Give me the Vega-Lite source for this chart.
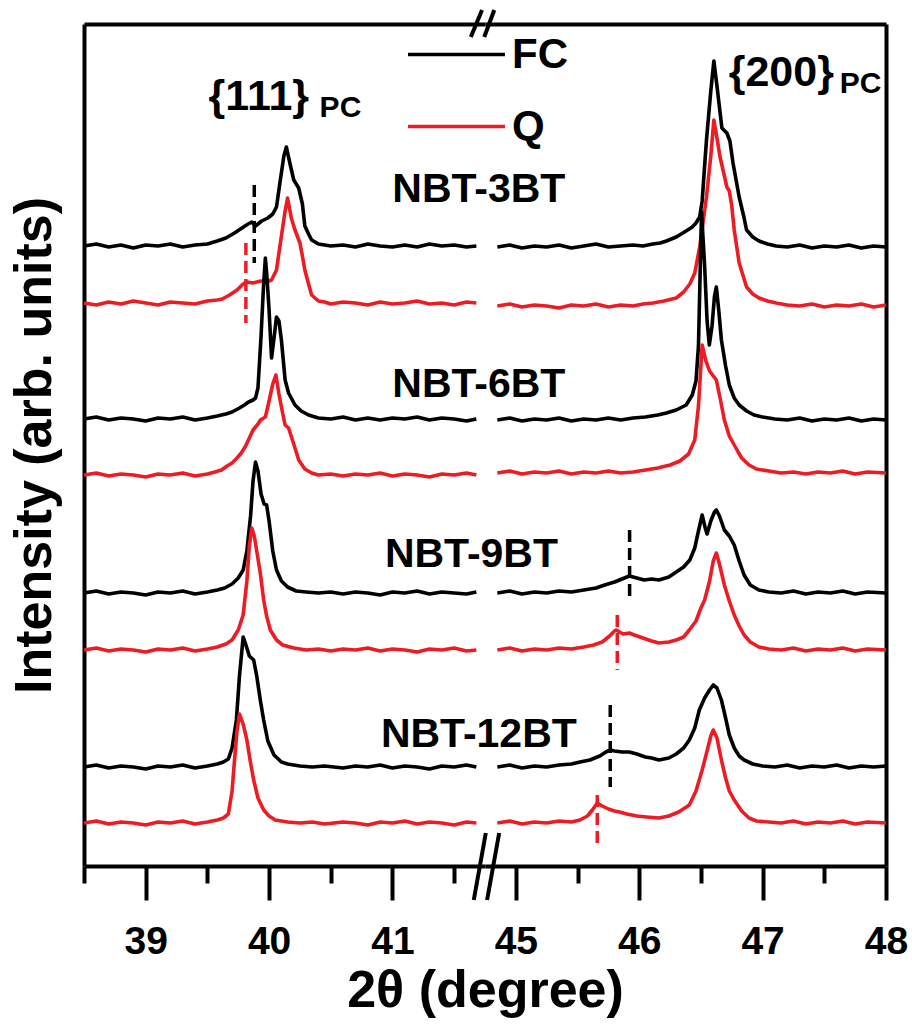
{
"$schema":"https://vega.github.io/schema/vega-lite/v6.json",
"padding":{"left":8,"top":4,"right":20,"bottom":3},
"bounds":"flush",
"spacing":0,
"config":{"view":{"stroke":null},"font":"Liberation Sans",
"axis":{"domainColor":"black","domainWidth":4,"tickColor":"black","tickWidth":4,"labelFont":"Liberation Sans","labelFontWeight":"bold","labelFontSize":39,"labelColor":"black","titleFont":"Liberation Sans","titleFontWeight":"bold","titleFontSize":52,"titleColor":"black","grid":false,"labelFlush":false,"labelOverlap":false}},
"resolve":{"scale":{"x":"independent","y":"independent","color":"shared"}},
"datasets":{
"xrd":[
{"s":"3BT","c":"FC","x":38.5,"y":620},{"s":"3BT","c":"FC","x":38.6,"y":622},{"s":"3BT","c":"FC","x":38.7,"y":619},{"s":"3BT","c":"FC","x":38.8,"y":621},{"s":"3BT","c":"FC","x":38.9,"y":618},{"s":"3BT","c":"FC","x":39.0,"y":621},{"s":"3BT","c":"FC","x":39.1,"y":620},{"s":"3BT","c":"FC","x":39.2,"y":622},{"s":"3BT","c":"FC","x":39.3,"y":619},{"s":"3BT","c":"FC","x":39.4,"y":621},{"s":"3BT","c":"FC","x":39.5,"y":622},{"s":"3BT","c":"FC","x":39.58,"y":625},{"s":"3BT","c":"FC","x":39.65,"y":628},{"s":"3BT","c":"FC","x":39.72,"y":633},{"s":"3BT","c":"FC","x":39.78,"y":638},{"s":"3BT","c":"FC","x":39.83,"y":642},{"s":"3BT","c":"FC","x":39.86,"y":644},{"s":"3BT","c":"FC","x":39.89,"y":640},{"s":"3BT","c":"FC","x":39.94,"y":645},{"s":"3BT","c":"FC","x":39.99,"y":648},{"s":"3BT","c":"FC","x":40.03,"y":652},{"s":"3BT","c":"FC","x":40.06,"y":659},{"s":"3BT","c":"FC","x":40.09,"y":685},{"s":"3BT","c":"FC","x":40.12,"y":710},{"s":"3BT","c":"FC","x":40.14,"y":719},{"s":"3BT","c":"FC","x":40.17,"y":702},{"s":"3BT","c":"FC","x":40.2,"y":686},{"s":"3BT","c":"FC","x":40.24,"y":678},{"s":"3BT","c":"FC","x":40.27,"y":662},{"s":"3BT","c":"FC","x":40.29,"y":640},{"s":"3BT","c":"FC","x":40.32,"y":632},{"s":"3BT","c":"FC","x":40.345,"y":626},{"s":"3BT","c":"FC","x":40.4,"y":622},{"s":"3BT","c":"FC","x":40.5,"y":620},{"s":"3BT","c":"FC","x":40.6,"y":621},{"s":"3BT","c":"FC","x":40.7,"y":619},{"s":"3BT","c":"FC","x":40.8,"y":622},{"s":"3BT","c":"FC","x":40.9,"y":620},{"s":"3BT","c":"FC","x":41.0,"y":619},{"s":"3BT","c":"FC","x":41.1,"y":621},{"s":"3BT","c":"FC","x":41.2,"y":619},{"s":"3BT","c":"FC","x":41.3,"y":622},{"s":"3BT","c":"FC","x":41.4,"y":620},{"s":"3BT","c":"FC","x":41.5,"y":621},{"s":"3BT","c":"FC","x":41.6,"y":619},{"s":"3BT","c":"FC","x":41.68,"y":620},
{"s":"3BT","c":"Q","x":38.5,"y":563},{"s":"3BT","c":"Q","x":38.6,"y":561},{"s":"3BT","c":"Q","x":38.7,"y":564},{"s":"3BT","c":"Q","x":38.8,"y":562},{"s":"3BT","c":"Q","x":38.9,"y":565},{"s":"3BT","c":"Q","x":39.0,"y":563},{"s":"3BT","c":"Q","x":39.1,"y":561},{"s":"3BT","c":"Q","x":39.2,"y":564},{"s":"3BT","c":"Q","x":39.3,"y":563},{"s":"3BT","c":"Q","x":39.4,"y":562},{"s":"3BT","c":"Q","x":39.5,"y":565},{"s":"3BT","c":"Q","x":39.58,"y":566},{"s":"3BT","c":"Q","x":39.62,"y":567},{"s":"3BT","c":"Q","x":39.68,"y":571},{"s":"3BT","c":"Q","x":39.74,"y":576},{"s":"3BT","c":"Q","x":39.79,"y":582},{"s":"3BT","c":"Q","x":39.82,"y":584},{"s":"3BT","c":"Q","x":39.87,"y":583},{"s":"3BT","c":"Q","x":39.93,"y":585},{"s":"3BT","c":"Q","x":39.98,"y":584},{"s":"3BT","c":"Q","x":40.02,"y":586},{"s":"3BT","c":"Q","x":40.06,"y":596},{"s":"3BT","c":"Q","x":40.1,"y":630},{"s":"3BT","c":"Q","x":40.13,"y":655},{"s":"3BT","c":"Q","x":40.15,"y":668},{"s":"3BT","c":"Q","x":40.18,"y":648},{"s":"3BT","c":"Q","x":40.21,"y":636},{"s":"3BT","c":"Q","x":40.25,"y":623},{"s":"3BT","c":"Q","x":40.27,"y":610},{"s":"3BT","c":"Q","x":40.29,"y":596},{"s":"3BT","c":"Q","x":40.32,"y":582},{"s":"3BT","c":"Q","x":40.345,"y":571},{"s":"3BT","c":"Q","x":40.4,"y":565},{"s":"3BT","c":"Q","x":40.45,"y":564},{"s":"3BT","c":"Q","x":40.5,"y":562},{"s":"3BT","c":"Q","x":40.6,"y":564},{"s":"3BT","c":"Q","x":40.7,"y":563},{"s":"3BT","c":"Q","x":40.8,"y":561},{"s":"3BT","c":"Q","x":40.9,"y":564},{"s":"3BT","c":"Q","x":41.0,"y":562},{"s":"3BT","c":"Q","x":41.1,"y":563},{"s":"3BT","c":"Q","x":41.2,"y":565},{"s":"3BT","c":"Q","x":41.3,"y":562},{"s":"3BT","c":"Q","x":41.4,"y":563},{"s":"3BT","c":"Q","x":41.5,"y":561},{"s":"3BT","c":"Q","x":41.6,"y":564},{"s":"3BT","c":"Q","x":41.68,"y":563},
{"s":"6BT","c":"FC","x":38.5,"y":447},{"s":"6BT","c":"FC","x":38.6,"y":449},{"s":"6BT","c":"FC","x":38.7,"y":446},{"s":"6BT","c":"FC","x":38.8,"y":448},{"s":"6BT","c":"FC","x":38.9,"y":447},{"s":"6BT","c":"FC","x":39.0,"y":445},{"s":"6BT","c":"FC","x":39.1,"y":448},{"s":"6BT","c":"FC","x":39.2,"y":447},{"s":"6BT","c":"FC","x":39.3,"y":449},{"s":"6BT","c":"FC","x":39.4,"y":446},{"s":"6BT","c":"FC","x":39.5,"y":448},{"s":"6BT","c":"FC","x":39.58,"y":450},{"s":"6BT","c":"FC","x":39.65,"y":452},{"s":"6BT","c":"FC","x":39.7,"y":454},{"s":"6BT","c":"FC","x":39.76,"y":458},{"s":"6BT","c":"FC","x":39.8,"y":461},{"s":"6BT","c":"FC","x":39.834,"y":464},{"s":"6BT","c":"FC","x":39.87,"y":466},{"s":"6BT","c":"FC","x":39.89,"y":468},{"s":"6BT","c":"FC","x":39.91,"y":478},{"s":"6BT","c":"FC","x":39.935,"y":530},{"s":"6BT","c":"FC","x":39.955,"y":580},{"s":"6BT","c":"FC","x":39.97,"y":608},{"s":"6BT","c":"FC","x":39.985,"y":585},{"s":"6BT","c":"FC","x":40.0,"y":556},{"s":"6BT","c":"FC","x":40.02,"y":508},{"s":"6BT","c":"FC","x":40.04,"y":528},{"s":"6BT","c":"FC","x":40.06,"y":549},{"s":"6BT","c":"FC","x":40.08,"y":545},{"s":"6BT","c":"FC","x":40.1,"y":526},{"s":"6BT","c":"FC","x":40.13,"y":486},{"s":"6BT","c":"FC","x":40.158,"y":473},{"s":"6BT","c":"FC","x":40.21,"y":461},{"s":"6BT","c":"FC","x":40.26,"y":455},{"s":"6BT","c":"FC","x":40.32,"y":451},{"s":"6BT","c":"FC","x":40.4,"y":448},{"s":"6BT","c":"FC","x":40.5,"y":447},{"s":"6BT","c":"FC","x":40.6,"y":449},{"s":"6BT","c":"FC","x":40.7,"y":446},{"s":"6BT","c":"FC","x":40.8,"y":448},{"s":"6BT","c":"FC","x":40.9,"y":446},{"s":"6BT","c":"FC","x":41.0,"y":448},{"s":"6BT","c":"FC","x":41.1,"y":447},{"s":"6BT","c":"FC","x":41.2,"y":449},{"s":"6BT","c":"FC","x":41.3,"y":446},{"s":"6BT","c":"FC","x":41.4,"y":448},{"s":"6BT","c":"FC","x":41.5,"y":447},{"s":"6BT","c":"FC","x":41.6,"y":445},{"s":"6BT","c":"FC","x":41.68,"y":447},
{"s":"6BT","c":"Q","x":38.5,"y":391},{"s":"6BT","c":"Q","x":38.6,"y":393},{"s":"6BT","c":"Q","x":38.7,"y":390},{"s":"6BT","c":"Q","x":38.8,"y":392},{"s":"6BT","c":"Q","x":38.9,"y":391},{"s":"6BT","c":"Q","x":39.0,"y":389},{"s":"6BT","c":"Q","x":39.1,"y":392},{"s":"6BT","c":"Q","x":39.2,"y":391},{"s":"6BT","c":"Q","x":39.3,"y":393},{"s":"6BT","c":"Q","x":39.4,"y":390},{"s":"6BT","c":"Q","x":39.5,"y":392},{"s":"6BT","c":"Q","x":39.56,"y":394},{"s":"6BT","c":"Q","x":39.615,"y":396},{"s":"6BT","c":"Q","x":39.66,"y":400},{"s":"6BT","c":"Q","x":39.7,"y":403},{"s":"6BT","c":"Q","x":39.74,"y":408},{"s":"6BT","c":"Q","x":39.775,"y":413},{"s":"6BT","c":"Q","x":39.81,"y":420},{"s":"6BT","c":"Q","x":39.84,"y":428},{"s":"6BT","c":"Q","x":39.87,"y":436},{"s":"6BT","c":"Q","x":39.91,"y":442},{"s":"6BT","c":"Q","x":39.93,"y":446},{"s":"6BT","c":"Q","x":39.97,"y":449},{"s":"6BT","c":"Q","x":40.0,"y":465},{"s":"6BT","c":"Q","x":40.03,"y":482},{"s":"6BT","c":"Q","x":40.055,"y":491},{"s":"6BT","c":"Q","x":40.08,"y":472},{"s":"6BT","c":"Q","x":40.1,"y":459},{"s":"6BT","c":"Q","x":40.13,"y":441},{"s":"6BT","c":"Q","x":40.158,"y":438},{"s":"6BT","c":"Q","x":40.2,"y":422},{"s":"6BT","c":"Q","x":40.24,"y":406},{"s":"6BT","c":"Q","x":40.29,"y":397},{"s":"6BT","c":"Q","x":40.345,"y":393},{"s":"6BT","c":"Q","x":40.4,"y":391},{"s":"6BT","c":"Q","x":40.5,"y":392},{"s":"6BT","c":"Q","x":40.6,"y":390},{"s":"6BT","c":"Q","x":40.7,"y":392},{"s":"6BT","c":"Q","x":40.8,"y":391},{"s":"6BT","c":"Q","x":40.9,"y":393},{"s":"6BT","c":"Q","x":41.0,"y":390},{"s":"6BT","c":"Q","x":41.1,"y":392},{"s":"6BT","c":"Q","x":41.2,"y":391},{"s":"6BT","c":"Q","x":41.3,"y":389},{"s":"6BT","c":"Q","x":41.4,"y":392},{"s":"6BT","c":"Q","x":41.5,"y":391},{"s":"6BT","c":"Q","x":41.6,"y":393},{"s":"6BT","c":"Q","x":41.68,"y":391},
{"s":"9BT","c":"FC","x":38.5,"y":273},{"s":"9BT","c":"FC","x":38.6,"y":275},{"s":"9BT","c":"FC","x":38.7,"y":272},{"s":"9BT","c":"FC","x":38.8,"y":274},{"s":"9BT","c":"FC","x":38.9,"y":273},{"s":"9BT","c":"FC","x":39.0,"y":271},{"s":"9BT","c":"FC","x":39.1,"y":274},{"s":"9BT","c":"FC","x":39.2,"y":273},{"s":"9BT","c":"FC","x":39.3,"y":275},{"s":"9BT","c":"FC","x":39.4,"y":272},{"s":"9BT","c":"FC","x":39.5,"y":274},{"s":"9BT","c":"FC","x":39.58,"y":276},{"s":"9BT","c":"FC","x":39.64,"y":278},{"s":"9BT","c":"FC","x":39.7,"y":282},{"s":"9BT","c":"FC","x":39.75,"y":288},{"s":"9BT","c":"FC","x":39.79,"y":296},{"s":"9BT","c":"FC","x":39.82,"y":315},{"s":"9BT","c":"FC","x":39.85,"y":350},{"s":"9BT","c":"FC","x":39.87,"y":385},{"s":"9BT","c":"FC","x":39.89,"y":404},{"s":"9BT","c":"FC","x":39.91,"y":395},{"s":"9BT","c":"FC","x":39.935,"y":372},{"s":"9BT","c":"FC","x":39.96,"y":362},{"s":"9BT","c":"FC","x":39.98,"y":361},{"s":"9BT","c":"FC","x":40.0,"y":345},{"s":"9BT","c":"FC","x":40.03,"y":315},{"s":"9BT","c":"FC","x":40.06,"y":296},{"s":"9BT","c":"FC","x":40.1,"y":285},{"s":"9BT","c":"FC","x":40.15,"y":279},{"s":"9BT","c":"FC","x":40.22,"y":275},{"s":"9BT","c":"FC","x":40.3,"y":274},{"s":"9BT","c":"FC","x":40.4,"y":273},{"s":"9BT","c":"FC","x":40.5,"y":274},{"s":"9BT","c":"FC","x":40.6,"y":272},{"s":"9BT","c":"FC","x":40.7,"y":274},{"s":"9BT","c":"FC","x":40.8,"y":273},{"s":"9BT","c":"FC","x":40.9,"y":271},{"s":"9BT","c":"FC","x":41.0,"y":274},{"s":"9BT","c":"FC","x":41.1,"y":273},{"s":"9BT","c":"FC","x":41.2,"y":275},{"s":"9BT","c":"FC","x":41.3,"y":272},{"s":"9BT","c":"FC","x":41.4,"y":274},{"s":"9BT","c":"FC","x":41.5,"y":273},{"s":"9BT","c":"FC","x":41.6,"y":272},{"s":"9BT","c":"FC","x":41.68,"y":274},
{"s":"9BT","c":"Q","x":38.5,"y":216},{"s":"9BT","c":"Q","x":38.6,"y":218},{"s":"9BT","c":"Q","x":38.7,"y":215},{"s":"9BT","c":"Q","x":38.8,"y":217},{"s":"9BT","c":"Q","x":38.9,"y":216},{"s":"9BT","c":"Q","x":39.0,"y":214},{"s":"9BT","c":"Q","x":39.1,"y":217},{"s":"9BT","c":"Q","x":39.2,"y":216},{"s":"9BT","c":"Q","x":39.3,"y":218},{"s":"9BT","c":"Q","x":39.4,"y":215},{"s":"9BT","c":"Q","x":39.5,"y":217},{"s":"9BT","c":"Q","x":39.58,"y":219},{"s":"9BT","c":"Q","x":39.65,"y":222},{"s":"9BT","c":"Q","x":39.7,"y":226},{"s":"9BT","c":"Q","x":39.75,"y":236},{"s":"9BT","c":"Q","x":39.79,"y":251},{"s":"9BT","c":"Q","x":39.82,"y":285},{"s":"9BT","c":"Q","x":39.84,"y":320},{"s":"9BT","c":"Q","x":39.86,"y":338},{"s":"9BT","c":"Q","x":39.88,"y":330},{"s":"9BT","c":"Q","x":39.9,"y":315},{"s":"9BT","c":"Q","x":39.93,"y":292},{"s":"9BT","c":"Q","x":39.956,"y":266},{"s":"9BT","c":"Q","x":39.98,"y":250},{"s":"9BT","c":"Q","x":40.01,"y":236},{"s":"9BT","c":"Q","x":40.06,"y":226},{"s":"9BT","c":"Q","x":40.11,"y":221},{"s":"9BT","c":"Q","x":40.2,"y":218},{"s":"9BT","c":"Q","x":40.3,"y":216},{"s":"9BT","c":"Q","x":40.4,"y":217},{"s":"9BT","c":"Q","x":40.5,"y":215},{"s":"9BT","c":"Q","x":40.6,"y":217},{"s":"9BT","c":"Q","x":40.7,"y":216},{"s":"9BT","c":"Q","x":40.8,"y":218},{"s":"9BT","c":"Q","x":40.9,"y":215},{"s":"9BT","c":"Q","x":41.0,"y":217},{"s":"9BT","c":"Q","x":41.1,"y":216},{"s":"9BT","c":"Q","x":41.2,"y":214},{"s":"9BT","c":"Q","x":41.3,"y":217},{"s":"9BT","c":"Q","x":41.4,"y":216},{"s":"9BT","c":"Q","x":41.5,"y":218},{"s":"9BT","c":"Q","x":41.6,"y":215},{"s":"9BT","c":"Q","x":41.68,"y":216},
{"s":"12BT","c":"FC","x":38.5,"y":99},{"s":"12BT","c":"FC","x":38.6,"y":101},{"s":"12BT","c":"FC","x":38.7,"y":98},{"s":"12BT","c":"FC","x":38.8,"y":100},{"s":"12BT","c":"FC","x":38.9,"y":99},{"s":"12BT","c":"FC","x":39.0,"y":97},{"s":"12BT","c":"FC","x":39.1,"y":100},{"s":"12BT","c":"FC","x":39.2,"y":99},{"s":"12BT","c":"FC","x":39.3,"y":101},{"s":"12BT","c":"FC","x":39.4,"y":98},{"s":"12BT","c":"FC","x":39.5,"y":100},{"s":"12BT","c":"FC","x":39.58,"y":102},{"s":"12BT","c":"FC","x":39.63,"y":104},{"s":"12BT","c":"FC","x":39.67,"y":107},{"s":"12BT","c":"FC","x":39.7,"y":118},{"s":"12BT","c":"FC","x":39.735,"y":146},{"s":"12BT","c":"FC","x":39.76,"y":190},{"s":"12BT","c":"FC","x":39.79,"y":229},{"s":"12BT","c":"FC","x":39.81,"y":222},{"s":"12BT","c":"FC","x":39.84,"y":210},{"s":"12BT","c":"FC","x":39.875,"y":206},{"s":"12BT","c":"FC","x":39.9,"y":190},{"s":"12BT","c":"FC","x":39.93,"y":165},{"s":"12BT","c":"FC","x":39.956,"y":146},{"s":"12BT","c":"FC","x":39.99,"y":125},{"s":"12BT","c":"FC","x":40.04,"y":111},{"s":"12BT","c":"FC","x":40.1,"y":104},{"s":"12BT","c":"FC","x":40.15,"y":102},{"s":"12BT","c":"FC","x":40.25,"y":100},{"s":"12BT","c":"FC","x":40.35,"y":99},{"s":"12BT","c":"FC","x":40.45,"y":100},{"s":"12BT","c":"FC","x":40.6,"y":98},{"s":"12BT","c":"FC","x":40.7,"y":100},{"s":"12BT","c":"FC","x":40.8,"y":99},{"s":"12BT","c":"FC","x":40.9,"y":101},{"s":"12BT","c":"FC","x":41.0,"y":98},{"s":"12BT","c":"FC","x":41.1,"y":100},{"s":"12BT","c":"FC","x":41.2,"y":99},{"s":"12BT","c":"FC","x":41.3,"y":97},{"s":"12BT","c":"FC","x":41.4,"y":100},{"s":"12BT","c":"FC","x":41.5,"y":99},{"s":"12BT","c":"FC","x":41.6,"y":101},{"s":"12BT","c":"FC","x":41.68,"y":99},
{"s":"12BT","c":"Q","x":38.5,"y":43},{"s":"12BT","c":"Q","x":38.6,"y":45},{"s":"12BT","c":"Q","x":38.7,"y":42},{"s":"12BT","c":"Q","x":38.8,"y":44},{"s":"12BT","c":"Q","x":38.9,"y":43},{"s":"12BT","c":"Q","x":39.0,"y":41},{"s":"12BT","c":"Q","x":39.1,"y":44},{"s":"12BT","c":"Q","x":39.2,"y":43},{"s":"12BT","c":"Q","x":39.3,"y":45},{"s":"12BT","c":"Q","x":39.4,"y":42},{"s":"12BT","c":"Q","x":39.5,"y":44},{"s":"12BT","c":"Q","x":39.58,"y":46},{"s":"12BT","c":"Q","x":39.63,"y":48},{"s":"12BT","c":"Q","x":39.67,"y":52},{"s":"12BT","c":"Q","x":39.7,"y":75},{"s":"12BT","c":"Q","x":39.72,"y":106},{"s":"12BT","c":"Q","x":39.74,"y":135},{"s":"12BT","c":"Q","x":39.76,"y":152},{"s":"12BT","c":"Q","x":39.79,"y":142},{"s":"12BT","c":"Q","x":39.82,"y":126},{"s":"12BT","c":"Q","x":39.85,"y":103},{"s":"12BT","c":"Q","x":39.875,"y":86},{"s":"12BT","c":"Q","x":39.91,"y":68},{"s":"12BT","c":"Q","x":39.956,"y":56},{"s":"12BT","c":"Q","x":40.0,"y":50},{"s":"12BT","c":"Q","x":40.05,"y":46},{"s":"12BT","c":"Q","x":40.15,"y":44},{"s":"12BT","c":"Q","x":40.25,"y":43},{"s":"12BT","c":"Q","x":40.35,"y":44},{"s":"12BT","c":"Q","x":40.45,"y":42},{"s":"12BT","c":"Q","x":40.6,"y":44},{"s":"12BT","c":"Q","x":40.7,"y":43},{"s":"12BT","c":"Q","x":40.8,"y":41},{"s":"12BT","c":"Q","x":40.9,"y":44},{"s":"12BT","c":"Q","x":41.0,"y":43},{"s":"12BT","c":"Q","x":41.1,"y":45},{"s":"12BT","c":"Q","x":41.2,"y":42},{"s":"12BT","c":"Q","x":41.3,"y":44},{"s":"12BT","c":"Q","x":41.4,"y":43},{"s":"12BT","c":"Q","x":41.5,"y":41},{"s":"12BT","c":"Q","x":41.6,"y":44},{"s":"12BT","c":"Q","x":41.68,"y":43},
{"s":"3BT","c":"FC","x":44.85,"y":619},{"s":"3BT","c":"FC","x":44.95,"y":621},{"s":"3BT","c":"FC","x":45.05,"y":618},{"s":"3BT","c":"FC","x":45.15,"y":620},{"s":"3BT","c":"FC","x":45.25,"y":619},{"s":"3BT","c":"FC","x":45.35,"y":621},{"s":"3BT","c":"FC","x":45.45,"y":618},{"s":"3BT","c":"FC","x":45.55,"y":620},{"s":"3BT","c":"FC","x":45.65,"y":622},{"s":"3BT","c":"FC","x":45.75,"y":619},{"s":"3BT","c":"FC","x":45.85,"y":620},{"s":"3BT","c":"FC","x":45.95,"y":621},{"s":"3BT","c":"FC","x":46.03,"y":620},{"s":"3BT","c":"FC","x":46.11,"y":622},{"s":"3BT","c":"FC","x":46.17,"y":623},{"s":"3BT","c":"FC","x":46.22,"y":625},{"s":"3BT","c":"FC","x":46.3,"y":629},{"s":"3BT","c":"FC","x":46.38,"y":635},{"s":"3BT","c":"FC","x":46.43,"y":639},{"s":"3BT","c":"FC","x":46.46,"y":643},{"s":"3BT","c":"FC","x":46.49,"y":649},{"s":"3BT","c":"FC","x":46.51,"y":665},{"s":"3BT","c":"FC","x":46.545,"y":726},{"s":"3BT","c":"FC","x":46.58,"y":775},{"s":"3BT","c":"FC","x":46.605,"y":805},{"s":"3BT","c":"FC","x":46.63,"y":780},{"s":"3BT","c":"FC","x":46.67,"y":738},{"s":"3BT","c":"FC","x":46.71,"y":733},{"s":"3BT","c":"FC","x":46.735,"y":725},{"s":"3BT","c":"FC","x":46.76,"y":703},{"s":"3BT","c":"FC","x":46.81,"y":669},{"s":"3BT","c":"FC","x":46.85,"y":648},{"s":"3BT","c":"FC","x":46.87,"y":636},{"s":"3BT","c":"FC","x":46.92,"y":629},{"s":"3BT","c":"FC","x":46.97,"y":625},{"s":"3BT","c":"FC","x":47.04,"y":622},{"s":"3BT","c":"FC","x":47.11,"y":620},{"s":"3BT","c":"FC","x":47.2,"y":619},{"s":"3BT","c":"FC","x":47.3,"y":621},{"s":"3BT","c":"FC","x":47.4,"y":618},{"s":"3BT","c":"FC","x":47.5,"y":620},{"s":"3BT","c":"FC","x":47.6,"y":619},{"s":"3BT","c":"FC","x":47.7,"y":621},{"s":"3BT","c":"FC","x":47.8,"y":618},{"s":"3BT","c":"FC","x":47.9,"y":620},{"s":"3BT","c":"FC","x":48.0,"y":619},
{"s":"3BT","c":"Q","x":44.85,"y":560},{"s":"3BT","c":"Q","x":44.95,"y":562},{"s":"3BT","c":"Q","x":45.05,"y":559},{"s":"3BT","c":"Q","x":45.15,"y":561},{"s":"3BT","c":"Q","x":45.25,"y":560},{"s":"3BT","c":"Q","x":45.35,"y":558},{"s":"3BT","c":"Q","x":45.45,"y":561},{"s":"3BT","c":"Q","x":45.55,"y":560},{"s":"3BT","c":"Q","x":45.65,"y":562},{"s":"3BT","c":"Q","x":45.75,"y":559},{"s":"3BT","c":"Q","x":45.85,"y":561},{"s":"3BT","c":"Q","x":45.95,"y":560},{"s":"3BT","c":"Q","x":46.03,"y":562},{"s":"3BT","c":"Q","x":46.11,"y":563},{"s":"3BT","c":"Q","x":46.2,"y":565},{"s":"3BT","c":"Q","x":46.3,"y":568},{"s":"3BT","c":"Q","x":46.36,"y":574},{"s":"3BT","c":"Q","x":46.41,"y":582},{"s":"3BT","c":"Q","x":46.45,"y":593},{"s":"3BT","c":"Q","x":46.49,"y":619},{"s":"3BT","c":"Q","x":46.545,"y":669},{"s":"3BT","c":"Q","x":46.58,"y":710},{"s":"3BT","c":"Q","x":46.605,"y":746},{"s":"3BT","c":"Q","x":46.63,"y":728},{"s":"3BT","c":"Q","x":46.655,"y":709},{"s":"3BT","c":"Q","x":46.69,"y":690},{"s":"3BT","c":"Q","x":46.71,"y":679},{"s":"3BT","c":"Q","x":46.73,"y":675},{"s":"3BT","c":"Q","x":46.75,"y":660},{"s":"3BT","c":"Q","x":46.77,"y":636},{"s":"3BT","c":"Q","x":46.81,"y":603},{"s":"3BT","c":"Q","x":46.87,"y":579},{"s":"3BT","c":"Q","x":46.92,"y":572},{"s":"3BT","c":"Q","x":46.97,"y":568},{"s":"3BT","c":"Q","x":47.04,"y":565},{"s":"3BT","c":"Q","x":47.11,"y":563},{"s":"3BT","c":"Q","x":47.2,"y":561},{"s":"3BT","c":"Q","x":47.3,"y":560},{"s":"3BT","c":"Q","x":47.4,"y":562},{"s":"3BT","c":"Q","x":47.5,"y":559},{"s":"3BT","c":"Q","x":47.6,"y":561},{"s":"3BT","c":"Q","x":47.7,"y":560},{"s":"3BT","c":"Q","x":47.8,"y":562},{"s":"3BT","c":"Q","x":47.9,"y":559},{"s":"3BT","c":"Q","x":48.0,"y":561},
{"s":"6BT","c":"FC","x":44.85,"y":446},{"s":"6BT","c":"FC","x":44.95,"y":448},{"s":"6BT","c":"FC","x":45.05,"y":445},{"s":"6BT","c":"FC","x":45.15,"y":447},{"s":"6BT","c":"FC","x":45.25,"y":446},{"s":"6BT","c":"FC","x":45.35,"y":448},{"s":"6BT","c":"FC","x":45.45,"y":445},{"s":"6BT","c":"FC","x":45.55,"y":447},{"s":"6BT","c":"FC","x":45.65,"y":446},{"s":"6BT","c":"FC","x":45.75,"y":448},{"s":"6BT","c":"FC","x":45.85,"y":446},{"s":"6BT","c":"FC","x":45.95,"y":448},{"s":"6BT","c":"FC","x":46.05,"y":449},{"s":"6BT","c":"FC","x":46.15,"y":451},{"s":"6BT","c":"FC","x":46.22,"y":453},{"s":"6BT","c":"FC","x":46.3,"y":456},{"s":"6BT","c":"FC","x":46.38,"y":461},{"s":"6BT","c":"FC","x":46.43,"y":471},{"s":"6BT","c":"FC","x":46.46,"y":485},{"s":"6BT","c":"FC","x":46.48,"y":520},{"s":"6BT","c":"FC","x":46.505,"y":654},{"s":"6BT","c":"FC","x":46.53,"y":600},{"s":"6BT","c":"FC","x":46.55,"y":545},{"s":"6BT","c":"FC","x":46.568,"y":521},{"s":"6BT","c":"FC","x":46.59,"y":540},{"s":"6BT","c":"FC","x":46.61,"y":570},{"s":"6BT","c":"FC","x":46.625,"y":579},{"s":"6BT","c":"FC","x":46.645,"y":555},{"s":"6BT","c":"FC","x":46.666,"y":526},{"s":"6BT","c":"FC","x":46.7,"y":500},{"s":"6BT","c":"FC","x":46.73,"y":481},{"s":"6BT","c":"FC","x":46.77,"y":468},{"s":"6BT","c":"FC","x":46.81,"y":461},{"s":"6BT","c":"FC","x":46.87,"y":455},{"s":"6BT","c":"FC","x":46.93,"y":451},{"s":"6BT","c":"FC","x":47.0,"y":449},{"s":"6BT","c":"FC","x":47.1,"y":447},{"s":"6BT","c":"FC","x":47.2,"y":446},{"s":"6BT","c":"FC","x":47.3,"y":448},{"s":"6BT","c":"FC","x":47.4,"y":445},{"s":"6BT","c":"FC","x":47.5,"y":447},{"s":"6BT","c":"FC","x":47.6,"y":446},{"s":"6BT","c":"FC","x":47.7,"y":448},{"s":"6BT","c":"FC","x":47.8,"y":445},{"s":"6BT","c":"FC","x":47.9,"y":447},{"s":"6BT","c":"FC","x":48.0,"y":446},
{"s":"6BT","c":"Q","x":44.85,"y":393},{"s":"6BT","c":"Q","x":44.95,"y":395},{"s":"6BT","c":"Q","x":45.05,"y":392},{"s":"6BT","c":"Q","x":45.15,"y":394},{"s":"6BT","c":"Q","x":45.25,"y":393},{"s":"6BT","c":"Q","x":45.35,"y":395},{"s":"6BT","c":"Q","x":45.45,"y":392},{"s":"6BT","c":"Q","x":45.55,"y":394},{"s":"6BT","c":"Q","x":45.65,"y":393},{"s":"6BT","c":"Q","x":45.75,"y":395},{"s":"6BT","c":"Q","x":45.85,"y":393},{"s":"6BT","c":"Q","x":45.95,"y":394},{"s":"6BT","c":"Q","x":46.05,"y":396},{"s":"6BT","c":"Q","x":46.15,"y":398},{"s":"6BT","c":"Q","x":46.25,"y":401},{"s":"6BT","c":"Q","x":46.33,"y":405},{"s":"6BT","c":"Q","x":46.4,"y":412},{"s":"6BT","c":"Q","x":46.45,"y":426},{"s":"6BT","c":"Q","x":46.48,"y":460},{"s":"6BT","c":"Q","x":46.51,"y":521},{"s":"6BT","c":"Q","x":46.54,"y":505},{"s":"6BT","c":"Q","x":46.57,"y":495},{"s":"6BT","c":"Q","x":46.6,"y":490},{"s":"6BT","c":"Q","x":46.625,"y":486},{"s":"6BT","c":"Q","x":46.66,"y":465},{"s":"6BT","c":"Q","x":46.69,"y":446},{"s":"6BT","c":"Q","x":46.73,"y":430},{"s":"6BT","c":"Q","x":46.77,"y":421},{"s":"6BT","c":"Q","x":46.83,"y":408},{"s":"6BT","c":"Q","x":46.89,"y":401},{"s":"6BT","c":"Q","x":46.95,"y":397},{"s":"6BT","c":"Q","x":47.05,"y":395},{"s":"6BT","c":"Q","x":47.15,"y":393},{"s":"6BT","c":"Q","x":47.25,"y":394},{"s":"6BT","c":"Q","x":47.35,"y":392},{"s":"6BT","c":"Q","x":47.45,"y":394},{"s":"6BT","c":"Q","x":47.55,"y":393},{"s":"6BT","c":"Q","x":47.65,"y":395},{"s":"6BT","c":"Q","x":47.75,"y":392},{"s":"6BT","c":"Q","x":47.85,"y":394},{"s":"6BT","c":"Q","x":48.0,"y":393},
{"s":"9BT","c":"FC","x":44.85,"y":273},{"s":"9BT","c":"FC","x":44.95,"y":275},{"s":"9BT","c":"FC","x":45.05,"y":272},{"s":"9BT","c":"FC","x":45.15,"y":274},{"s":"9BT","c":"FC","x":45.25,"y":273},{"s":"9BT","c":"FC","x":45.35,"y":275},{"s":"9BT","c":"FC","x":45.45,"y":274},{"s":"9BT","c":"FC","x":45.55,"y":276},{"s":"9BT","c":"FC","x":45.65,"y":278},{"s":"9BT","c":"FC","x":45.72,"y":281},{"s":"9BT","c":"FC","x":45.8,"y":284},{"s":"9BT","c":"FC","x":45.86,"y":287},{"s":"9BT","c":"FC","x":45.92,"y":290},{"s":"9BT","c":"FC","x":45.98,"y":288},{"s":"9BT","c":"FC","x":46.04,"y":286},{"s":"9BT","c":"FC","x":46.1,"y":287},{"s":"9BT","c":"FC","x":46.16,"y":286},{"s":"9BT","c":"FC","x":46.24,"y":289},{"s":"9BT","c":"FC","x":46.3,"y":294},{"s":"9BT","c":"FC","x":46.36,"y":299},{"s":"9BT","c":"FC","x":46.41,"y":306},{"s":"9BT","c":"FC","x":46.45,"y":318},{"s":"9BT","c":"FC","x":46.48,"y":335},{"s":"9BT","c":"FC","x":46.51,"y":351},{"s":"9BT","c":"FC","x":46.535,"y":338},{"s":"9BT","c":"FC","x":46.55,"y":332},{"s":"9BT","c":"FC","x":46.58,"y":345},{"s":"9BT","c":"FC","x":46.61,"y":354},{"s":"9BT","c":"FC","x":46.625,"y":356},{"s":"9BT","c":"FC","x":46.65,"y":350},{"s":"9BT","c":"FC","x":46.69,"y":336},{"s":"9BT","c":"FC","x":46.73,"y":330},{"s":"9BT","c":"FC","x":46.77,"y":321},{"s":"9BT","c":"FC","x":46.81,"y":305},{"s":"9BT","c":"FC","x":46.85,"y":291},{"s":"9BT","c":"FC","x":46.9,"y":281},{"s":"9BT","c":"FC","x":46.97,"y":276},{"s":"9BT","c":"FC","x":47.05,"y":274},{"s":"9BT","c":"FC","x":47.15,"y":273},{"s":"9BT","c":"FC","x":47.25,"y":275},{"s":"9BT","c":"FC","x":47.35,"y":272},{"s":"9BT","c":"FC","x":47.45,"y":274},{"s":"9BT","c":"FC","x":47.55,"y":273},{"s":"9BT","c":"FC","x":47.65,"y":275},{"s":"9BT","c":"FC","x":47.75,"y":272},{"s":"9BT","c":"FC","x":47.85,"y":274},{"s":"9BT","c":"FC","x":48.0,"y":273},
{"s":"9BT","c":"Q","x":44.85,"y":216},{"s":"9BT","c":"Q","x":44.95,"y":218},{"s":"9BT","c":"Q","x":45.05,"y":215},{"s":"9BT","c":"Q","x":45.15,"y":217},{"s":"9BT","c":"Q","x":45.25,"y":216},{"s":"9BT","c":"Q","x":45.35,"y":218},{"s":"9BT","c":"Q","x":45.45,"y":217},{"s":"9BT","c":"Q","x":45.55,"y":219},{"s":"9BT","c":"Q","x":45.63,"y":221},{"s":"9BT","c":"Q","x":45.7,"y":224},{"s":"9BT","c":"Q","x":45.76,"y":230},{"s":"9BT","c":"Q","x":45.8,"y":235},{"s":"9BT","c":"Q","x":45.814,"y":236},{"s":"9BT","c":"Q","x":45.84,"y":234},{"s":"9BT","c":"Q","x":45.87,"y":232},{"s":"9BT","c":"Q","x":45.92,"y":233},{"s":"9BT","c":"Q","x":45.96,"y":231},{"s":"9BT","c":"Q","x":46.03,"y":228},{"s":"9BT","c":"Q","x":46.1,"y":225},{"s":"9BT","c":"Q","x":46.16,"y":223},{"s":"9BT","c":"Q","x":46.24,"y":224},{"s":"9BT","c":"Q","x":46.3,"y":226},{"s":"9BT","c":"Q","x":46.36,"y":229},{"s":"9BT","c":"Q","x":46.406,"y":236},{"s":"9BT","c":"Q","x":46.46,"y":245},{"s":"9BT","c":"Q","x":46.5,"y":258},{"s":"9BT","c":"Q","x":46.53,"y":266},{"s":"9BT","c":"Q","x":46.57,"y":285},{"s":"9BT","c":"Q","x":46.6,"y":305},{"s":"9BT","c":"Q","x":46.625,"y":313},{"s":"9BT","c":"Q","x":46.65,"y":302},{"s":"9BT","c":"Q","x":46.69,"y":281},{"s":"9BT","c":"Q","x":46.73,"y":265},{"s":"9BT","c":"Q","x":46.77,"y":251},{"s":"9BT","c":"Q","x":46.81,"y":240},{"s":"9BT","c":"Q","x":46.85,"y":231},{"s":"9BT","c":"Q","x":46.9,"y":224},{"s":"9BT","c":"Q","x":46.97,"y":219},{"s":"9BT","c":"Q","x":47.05,"y":217},{"s":"9BT","c":"Q","x":47.15,"y":216},{"s":"9BT","c":"Q","x":47.25,"y":218},{"s":"9BT","c":"Q","x":47.35,"y":215},{"s":"9BT","c":"Q","x":47.45,"y":217},{"s":"9BT","c":"Q","x":47.55,"y":216},{"s":"9BT","c":"Q","x":47.65,"y":218},{"s":"9BT","c":"Q","x":47.75,"y":215},{"s":"9BT","c":"Q","x":47.85,"y":217},{"s":"9BT","c":"Q","x":48.0,"y":216},
{"s":"12BT","c":"FC","x":44.85,"y":99},{"s":"12BT","c":"FC","x":44.95,"y":101},{"s":"12BT","c":"FC","x":45.05,"y":98},{"s":"12BT","c":"FC","x":45.15,"y":100},{"s":"12BT","c":"FC","x":45.25,"y":99},{"s":"12BT","c":"FC","x":45.35,"y":101},{"s":"12BT","c":"FC","x":45.45,"y":102},{"s":"12BT","c":"FC","x":45.52,"y":104},{"s":"12BT","c":"FC","x":45.6,"y":106},{"s":"12BT","c":"FC","x":45.68,"y":110},{"s":"12BT","c":"FC","x":45.73,"y":114},{"s":"12BT","c":"FC","x":45.765,"y":116},{"s":"12BT","c":"FC","x":45.8,"y":115},{"s":"12BT","c":"FC","x":45.86,"y":114},{"s":"12BT","c":"FC","x":45.92,"y":114},{"s":"12BT","c":"FC","x":45.98,"y":112},{"s":"12BT","c":"FC","x":46.05,"y":109},{"s":"12BT","c":"FC","x":46.1,"y":108},{"s":"12BT","c":"FC","x":46.16,"y":106},{"s":"12BT","c":"FC","x":46.24,"y":108},{"s":"12BT","c":"FC","x":46.3,"y":112},{"s":"12BT","c":"FC","x":46.36,"y":118},{"s":"12BT","c":"FC","x":46.406,"y":126},{"s":"12BT","c":"FC","x":46.45,"y":138},{"s":"12BT","c":"FC","x":46.487,"y":156},{"s":"12BT","c":"FC","x":46.53,"y":168},{"s":"12BT","c":"FC","x":46.57,"y":176},{"s":"12BT","c":"FC","x":46.6,"y":181},{"s":"12BT","c":"FC","x":46.63,"y":178},{"s":"12BT","c":"FC","x":46.666,"y":166},{"s":"12BT","c":"FC","x":46.7,"y":148},{"s":"12BT","c":"FC","x":46.73,"y":131},{"s":"12BT","c":"FC","x":46.77,"y":118},{"s":"12BT","c":"FC","x":46.81,"y":110},{"s":"12BT","c":"FC","x":46.85,"y":106},{"s":"12BT","c":"FC","x":46.92,"y":102},{"s":"12BT","c":"FC","x":47.0,"y":100},{"s":"12BT","c":"FC","x":47.1,"y":99},{"s":"12BT","c":"FC","x":47.2,"y":101},{"s":"12BT","c":"FC","x":47.3,"y":98},{"s":"12BT","c":"FC","x":47.4,"y":100},{"s":"12BT","c":"FC","x":47.5,"y":99},{"s":"12BT","c":"FC","x":47.6,"y":101},{"s":"12BT","c":"FC","x":47.7,"y":98},{"s":"12BT","c":"FC","x":47.8,"y":100},{"s":"12BT","c":"FC","x":47.9,"y":99},{"s":"12BT","c":"FC","x":48.0,"y":100},
{"s":"12BT","c":"Q","x":44.85,"y":43},{"s":"12BT","c":"Q","x":44.95,"y":45},{"s":"12BT","c":"Q","x":45.05,"y":42},{"s":"12BT","c":"Q","x":45.15,"y":44},{"s":"12BT","c":"Q","x":45.25,"y":43},{"s":"12BT","c":"Q","x":45.35,"y":45},{"s":"12BT","c":"Q","x":45.45,"y":44},{"s":"12BT","c":"Q","x":45.52,"y":46},{"s":"12BT","c":"Q","x":45.58,"y":50},{"s":"12BT","c":"Q","x":45.62,"y":56},{"s":"12BT","c":"Q","x":45.66,"y":63},{"s":"12BT","c":"Q","x":45.7,"y":60},{"s":"12BT","c":"Q","x":45.75,"y":57},{"s":"12BT","c":"Q","x":45.8,"y":55},{"s":"12BT","c":"Q","x":45.84,"y":54},{"s":"12BT","c":"Q","x":45.9,"y":52},{"s":"12BT","c":"Q","x":45.98,"y":50},{"s":"12BT","c":"Q","x":46.06,"y":49},{"s":"12BT","c":"Q","x":46.16,"y":48},{"s":"12BT","c":"Q","x":46.24,"y":50},{"s":"12BT","c":"Q","x":46.32,"y":54},{"s":"12BT","c":"Q","x":46.406,"y":61},{"s":"12BT","c":"Q","x":46.46,"y":75},{"s":"12BT","c":"Q","x":46.51,"y":96},{"s":"12BT","c":"Q","x":46.55,"y":115},{"s":"12BT","c":"Q","x":46.58,"y":130},{"s":"12BT","c":"Q","x":46.6,"y":136},{"s":"12BT","c":"Q","x":46.63,"y":128},{"s":"12BT","c":"Q","x":46.666,"y":106},{"s":"12BT","c":"Q","x":46.7,"y":88},{"s":"12BT","c":"Q","x":46.73,"y":75},{"s":"12BT","c":"Q","x":46.77,"y":66},{"s":"12BT","c":"Q","x":46.83,"y":55},{"s":"12BT","c":"Q","x":46.89,"y":48},{"s":"12BT","c":"Q","x":46.95,"y":45},{"s":"12BT","c":"Q","x":47.05,"y":44},{"s":"12BT","c":"Q","x":47.15,"y":43},{"s":"12BT","c":"Q","x":47.25,"y":45},{"s":"12BT","c":"Q","x":47.35,"y":42},{"s":"12BT","c":"Q","x":47.45,"y":44},{"s":"12BT","c":"Q","x":47.55,"y":43},{"s":"12BT","c":"Q","x":47.65,"y":45},{"s":"12BT","c":"Q","x":47.75,"y":42},{"s":"12BT","c":"Q","x":47.85,"y":44},{"s":"12BT","c":"Q","x":48.0,"y":43}
],
"pk":[
{"s":"3BT","c":"FC","x":39.88,"top":681,"bot":603},
{"s":"3BT","c":"Q","x":39.812,"top":623,"bot":543},
{"s":"9BT","c":"FC","x":45.922,"top":336,"bot":266},
{"s":"9BT","c":"Q","x":45.822,"top":251,"bot":196},
{"s":"12BT","c":"FC","x":45.765,"top":161,"bot":79},
{"s":"12BT","c":"Q","x":45.66,"top":71,"bot":21}
],
"lab":[
{"name":"NBT-3BT","x":41.70,"y":676},
{"name":"NBT-6BT","x":41.70,"y":481},
{"name":"NBT-9BT","x":41.64,"y":311},
{"name":"NBT-12BT","x":41.70,"y":131}
],
"hkl":[
{"side":"L","hkl":"{111}","sub":"PC","x":39.51,"y":756},
{"side":"R","hkl":"{200}","sub":"PC","x":46.725,"y":780}
],
"brk":[
{"side":"L","x1":41.635,"x2":41.726,"y1":829,"y2":856},
{"side":"L","x1":41.659,"x2":41.7565,"y1":-34,"y2":33},
{"side":"R","x1":44.744,"x2":44.825,"y1":829,"y2":856},
{"side":"R","x1":44.767,"x2":44.865,"y1":-34,"y2":33}
]
},
"hconcat":[
{
"width":401,"height":842,
"resolve":{"axis":{"x":"independent","y":"independent"}},
"layer":[
{"data":{"name":"xrd"},"transform":[{"filter":"datum.x < 43"}],
"mark":{"type":"line","strokeWidth":3.6,"strokeJoin":"round"},
"encoding":{
"x":{"field":"x","type":"quantitative","scale":{"domain":[38.5,41.75],"nice":false,"zero":false},"axis":{"orient":"bottom","values":[39,40,41],"tickSize":34,"labelPadding":22,"domain":true,"title":"2θ (degree)","titleX":401,"titleAlign":"center","titlePadding":4}},
"y":{"field":"y","type":"quantitative","scale":{"domain":[0,842],"nice":false,"zero":false},"axis":{"orient":"left","labels":false,"ticks":false,"domain":true,"title":"Intensity (arb. units)","titlePadding":23}},
"color":{"field":"c","type":"nominal","scale":{"domain":["FC","Q"],"range":["#000000","#ed1c24"]},"legend":{"title":null,"orient":"none","legendX":322,"legendY":-20,"symbolType":"stroke","symbolSize":9400,"symbolStrokeWidth":3.5,"labelFontSize":42,"labelFont":"Liberation Sans","labelFontWeight":"bold","labelColor":"black","labelOffset":5,"rowPadding":-36,"padding":0}},
"detail":{"field":"s","type":"nominal"}}},
{"data":{"name":"pk"},"transform":[{"filter":"datum.x < 43"}],
"mark":{"type":"rule","strokeDash":[12,6],"strokeWidth":3.5},
"encoding":{
"x":{"field":"x","type":"quantitative","scale":{"domain":[38.5,41.75],"nice":false,"zero":false},"axis":{"orient":"bottom","values":[38.5,39.5,40.5,41.5],"tickSize":17,"labels":false,"domain":false,"title":null}},
"y":{"field":"top","type":"quantitative","scale":{"domain":[0,842],"nice":false,"zero":false},"axis":null},
"y2":{"field":"bot"},
"color":{"field":"c","type":"nominal","legend":null}}},
{"data":{"name":"lab"},
"mark":{"type":"text","fontSize":41,"fontWeight":"bold","font":"Liberation Sans","color":"black","align":"center","baseline":"middle"},
"encoding":{
"x":{"field":"x","type":"quantitative","scale":{"domain":[38.5,41.75],"nice":false,"zero":false},"axis":{"orient":"top","labels":false,"ticks":false,"domain":true,"title":null}},
"y":{"field":"y","type":"quantitative","scale":{"domain":[0,842],"nice":false,"zero":false},"axis":null},
"text":{"field":"name"}}},
{"data":{"name":"hkl"},"transform":[{"filter":"datum.side === 'L'"}],
"mark":{"type":"text","fontSize":43,"fontWeight":"bold","font":"Liberation Sans","color":"black","align":"left","baseline":"alphabetic"},
"encoding":{
"x":{"field":"x","type":"quantitative","scale":{"domain":[38.5,41.75],"nice":false,"zero":false},"axis":null},
"y":{"field":"y","type":"quantitative","scale":{"domain":[0,842],"nice":false,"zero":false},"axis":null},
"text":{"field":"hkl"}}},
{"data":{"name":"hkl"},"transform":[{"filter":"datum.side === 'L'"}],
"mark":{"type":"text","fontSize":30,"fontWeight":"bold","font":"Liberation Sans","color":"black","align":"left","baseline":"alphabetic","dx":111,"dy":7},
"encoding":{
"x":{"field":"x","type":"quantitative","scale":{"domain":[38.5,41.75],"nice":false,"zero":false},"axis":null},
"y":{"field":"y","type":"quantitative","scale":{"domain":[0,842],"nice":false,"zero":false},"axis":null},
"text":{"field":"sub"}}},
{"data":{"name":"brk"},"transform":[{"filter":"datum.side === 'L'"}],
"mark":{"type":"rule","strokeWidth":4,"color":"black"},
"encoding":{
"x":{"field":"x1","type":"quantitative","scale":{"domain":[38.5,41.75],"nice":false,"zero":false},"axis":null},
"x2":{"field":"x2"},
"y":{"field":"y1","type":"quantitative","scale":{"domain":[0,842],"nice":false,"zero":false},"axis":null},
"y2":{"field":"y2"}}}
]},
{
"width":401,"height":842,
"resolve":{"axis":{"x":"independent","y":"independent"}},
"layer":[
{"data":{"name":"xrd"},"transform":[{"filter":"datum.x > 43"}],
"mark":{"type":"line","strokeWidth":3.6,"strokeJoin":"round"},
"encoding":{
"x":{"field":"x","type":"quantitative","scale":{"domain":[44.75,48],"nice":false,"zero":false},"axis":{"orient":"bottom","values":[45,46,47,48],"tickSize":34,"labelPadding":22,"domain":true,"title":null}},
"y":{"field":"y","type":"quantitative","scale":{"domain":[0,842],"nice":false,"zero":false},"axis":{"orient":"right","labels":false,"ticks":false,"domain":true,"title":null}},
"color":{"field":"c","type":"nominal","scale":{"domain":["FC","Q"],"range":["#000000","#ed1c24"]},"legend":null},
"detail":{"field":"s","type":"nominal"}}},
{"data":{"name":"pk"},"transform":[{"filter":"datum.x > 43"}],
"mark":{"type":"rule","strokeDash":[12,6],"strokeWidth":3.5},
"encoding":{
"x":{"field":"x","type":"quantitative","scale":{"domain":[44.75,48],"nice":false,"zero":false},"axis":{"orient":"bottom","values":[45.5,46.5,47.5],"tickSize":17,"labels":false,"domain":false,"title":null}},
"y":{"field":"top","type":"quantitative","scale":{"domain":[0,842],"nice":false,"zero":false},"axis":null},
"y2":{"field":"bot"},
"color":{"field":"c","type":"nominal","legend":null}}},
{"data":{"name":"hkl"},"transform":[{"filter":"datum.side === 'R'"}],
"mark":{"type":"text","fontSize":43,"fontWeight":"bold","font":"Liberation Sans","color":"black","align":"left","baseline":"alphabetic"},
"encoding":{
"x":{"field":"x","type":"quantitative","scale":{"domain":[44.75,48],"nice":false,"zero":false},"axis":{"orient":"top","labels":false,"ticks":false,"domain":true,"title":null}},
"y":{"field":"y","type":"quantitative","scale":{"domain":[0,842],"nice":false,"zero":false},"axis":null},
"text":{"field":"hkl"}}},
{"data":{"name":"hkl"},"transform":[{"filter":"datum.side === 'R'"}],
"mark":{"type":"text","fontSize":30,"fontWeight":"bold","font":"Liberation Sans","color":"black","align":"left","baseline":"alphabetic","dx":111,"dy":7},
"encoding":{
"x":{"field":"x","type":"quantitative","scale":{"domain":[44.75,48],"nice":false,"zero":false},"axis":null},
"y":{"field":"y","type":"quantitative","scale":{"domain":[0,842],"nice":false,"zero":false},"axis":null},
"text":{"field":"sub"}}},
{"data":{"name":"brk"},"transform":[{"filter":"datum.side === 'R'"}],
"mark":{"type":"rule","strokeWidth":4,"color":"black"},
"encoding":{
"x":{"field":"x1","type":"quantitative","scale":{"domain":[44.75,48],"nice":false,"zero":false},"axis":null},
"x2":{"field":"x2"},
"y":{"field":"y1","type":"quantitative","scale":{"domain":[0,842],"nice":false,"zero":false},"axis":null},
"y2":{"field":"y2"}}}
]}
]
}
